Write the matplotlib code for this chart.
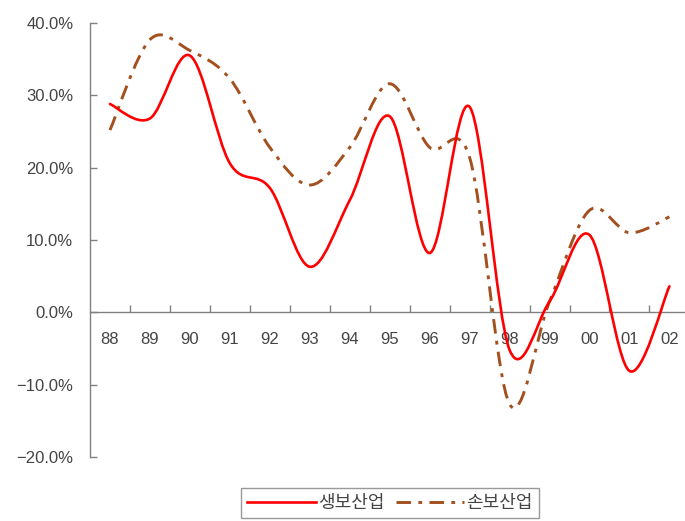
import numpy as np
import matplotlib
matplotlib.use('Agg')
import matplotlib.pyplot as plt
from matplotlib.path import Path
from matplotlib.patches import PathPatch
from matplotlib.lines import Line2D
from matplotlib.ticker import PercentFormatter, FixedLocator

plt.rcParams['font.family'] = ['Liberation Sans', 'Noto Sans CJK KR', 'DejaVu Sans']

YEARS = ['88', '89', '90', '91', '92', '93', '94', '95', '96', '97', '98', '99', '00', '01', '02']
LIFE = [28.8, 26.8, 35.5, 20.6, 17.2, 6.3, 15.5, 27.1, 8.2, 28.4, -5.2, 1.5, 10.7, -8.1, 3.6]
NONLIFE = [25.2, 37.7, 36.2, 32.3, 22.8, 17.6, 22.8, 31.6, 22.8, 21.4, -12.7, 1.5, 14.1, 11.0, 13.2]
LABELS = ['생보산업', '손보산업']

RED = '#FF0000'
BROWN = '#A3501E'
GREY = '#808080'
TEXT = '#444444'
DASHDOT = (0, (5, 2.5, 1.3, 2.5))


def smooth_path(xs, ys):
    # excel-like smoothed line: cubic bezier through every point
    pts = np.column_stack([xs, ys]).astype(float)
    n = len(pts)
    verts = [pts[0]]
    codes = [Path.MOVETO]
    for i in range(n - 1):
        p0 = pts[max(i - 1, 0)]
        p1 = pts[i]
        p2 = pts[i + 1]
        p3 = pts[min(i + 2, n - 1)]
        verts += [p1 + (p2 - p0) / 6, p2 - (p3 - p1) / 6, p2]
        codes += [Path.CURVE4] * 3
    return Path(verts, codes)


fig = plt.figure(figsize=(6.85, 5.21), dpi=100)
ax = fig.add_axes([90 / 685, 64 / 521, 595 / 685, 434 / 521])

x = np.arange(len(YEARS))
ax.add_patch(PathPatch(smooth_path(x, LIFE), fill=False, color=RED, lw=1.9,
                       capstyle='round', joinstyle='round', zorder=3))
ax.add_patch(PathPatch(smooth_path(x, NONLIFE), fill=False, color=BROWN, lw=2.1,
                       linestyle=DASHDOT, capstyle='butt', zorder=2))

ax.set_xlim(-0.5, 14.39)
ax.set_ylim(-20, 40)

for side in ['top', 'right']:
    ax.spines[side].set_visible(False)
ax.spines['bottom'].set_position(('data', 0))
for side in ['left', 'bottom']:
    ax.spines[side].set_color(GREY)
    ax.spines[side].set_linewidth(1.0)

ax.set_yticks(np.arange(-20, 41, 10))
ax.yaxis.set_major_formatter(PercentFormatter(decimals=1))
ax.tick_params(axis='y', direction='in', length=5, width=1, color=GREY,
               labelsize=12, labelcolor=TEXT, pad=12)

ax.set_xticks(x)
ax.set_xticklabels(YEARS)
ax.xaxis.set_minor_locator(FixedLocator(np.arange(0.5, 14, 1)))
ax.tick_params(axis='x', which='major', length=0, labelsize=12, labelcolor=TEXT, pad=14)
ax.tick_params(axis='x', which='minor', direction='in', length=5, width=1, color=GREY)

handles = [Line2D([], [], color=RED, lw=1.9),
           Line2D([], [], color=BROWN, lw=2.1, linestyle=DASHDOT)]
leg = fig.legend(handles, LABELS, loc='center', bbox_to_anchor=(390 / 685, 1 - 503 / 521),
                 ncol=2, frameon=True, fancybox=False, handlelength=3.8,
                 handletextpad=0.1, columnspacing=0.65, borderpad=0.35,
                 prop={'family': ['Noto Sans CJK KR', 'DejaVu Sans'], 'size': 13})
leg.get_frame().set_edgecolor(GREY)
leg.get_frame().set_linewidth(1.0)
for t in leg.get_texts():
    t.set_color(TEXT)

fig.savefig('out.png', dpi=100)
